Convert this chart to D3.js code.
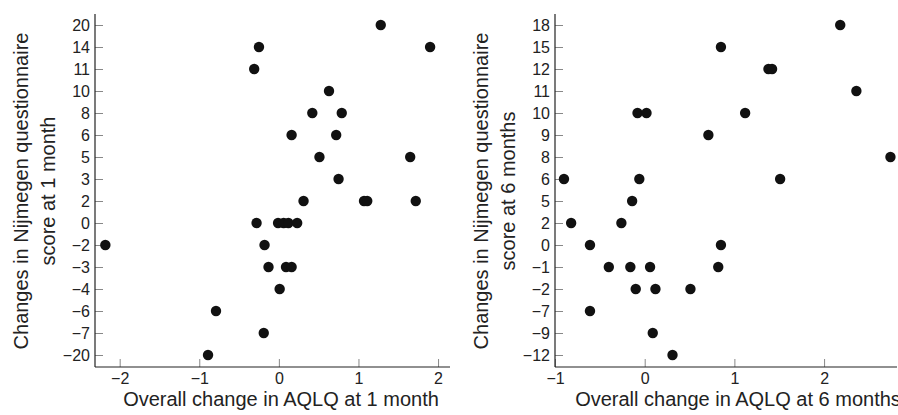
<!DOCTYPE html>
<html>
<head>
<meta charset="utf-8">
<script src="https://cdn.jsdelivr.net/npm/d3@7"></script>
<style>
body{margin:0;background:#fff}
text{font-family:"Liberation Sans",Arial,sans-serif;fill:#222}
</style>
</head>
<body>
<div id="chart"></div>
<script>
var width = 898
var height = 415

// y categories (the y axes are ordinal, not linear)
var cats1 = [20,14,11,10,8,6,5,3,2,0,-2,-3,-4,-6,-7,-20]
var cats6 = [18,15,12,11,10,9,8,6,5,2,0,-1,-2,-7,-9,-12]

// 1 month panel
var month1Y = [20,14,14,11,10,8,8,6,6,5,5,3,2,2,2,2,0,0,0,0,0,-2,-2,-3,-3,-3,-4,-6,-7,-20]
var month1X = [1.28,-0.25,1.90,-0.31,0.63,0.42,0.79,0.16,0.72,0.51,1.65,0.75,0.31,1.07,1.11,1.72,
	-0.28,-0.01,0.06,0.12,0.23,-0.18,-2.18,-0.13,0.09,0.16,0.01,-0.79,-0.19,-0.89]
var xTicks1 = [-2,-1,0,1,2]

// 6 months panel
var month6Y = [18,15,12,12,11,10,10,10,9,8,6,6,6,5,2,2,0,0,-1,-1,-1,-1,-2,-2,-2,-7,-9,-12]
var month6X = [2.18,0.85,1.38,1.42,2.36,-0.08,0.02,1.12,0.71,2.74,-0.90,-0.06,1.51,-0.14,-0.82,-0.26,
	-0.61,0.85,-0.40,-0.16,0.06,0.82,-0.10,0.12,0.51,-0.61,0.09,0.31]
var xTicks6 = [-1,0,1,2]

var svg = d3.select("#chart").append("svg")
	.attr("width",width)
	.attr("height",height)

var minus = function(v){ return String(v).replace("-","\u2212") }

function drawPanel(opts){
	var g = svg.append("g")
	var x = d3.scaleLinear().domain(opts.xDomain).range([opts.left,opts.right])
	var y = d3.scalePoint().domain(opts.cats).range([25,355])
	var axisY = 367

	// y axis, ticks pointing inward
	var yAxis = d3.axisLeft(y).tickSize(-8).tickPadding(5).tickFormat(minus)
	var gy = g.append("g").attr("transform","translate("+opts.left+",0)").call(yAxis)
	gy.select(".domain").remove()
	gy.selectAll(".tick line").attr("stroke","#888")
	gy.selectAll(".tick text").style("font-size","16px")

	var xAxis = d3.axisBottom(x).tickValues(opts.xTicks).tickSize(-8).tickPadding(6).tickFormat(minus)
	var gx = g.append("g").attr("transform","translate(0,"+axisY+")").call(xAxis)
	gx.select(".domain").remove()
	gx.selectAll(".tick line").attr("stroke","#888")
	gx.selectAll(".tick text").style("font-size","16px")

	g.append("line").attr("x1",opts.left).attr("x2",opts.left).attr("y1",14).attr("y2",axisY)
		.attr("stroke","#222").attr("stroke-width",1.2)
	g.append("line").attr("x1",opts.left).attr("x2",opts.right).attr("y1",axisY).attr("y2",axisY)
		.attr("stroke","#222").attr("stroke-width",1.2)

	g.selectAll(".dot")
		.data(opts.xs)
		.enter()
		.append("circle")
		.attr("class","dot")
		.attr("cx",function(d){ return x(d) })
		.attr("cy",function(d,i){ return y(opts.ys[i]) })
		.attr("r",5.2)
		.style("fill","#111")

	var title = g.append("text")
		.attr("transform","translate("+opts.titleX+",191) rotate(-90)")
		.attr("text-anchor","middle")
		.style("font-size","20px")
	title.append("tspan").attr("x",0).attr("dy",0).text("Changes in Nijmegen questionnaire")
	title.append("tspan").attr("x",0).attr("dy",27).text(opts.yLabel2)

	g.append("text")
		.attr("x",opts.xLabelX)
		.attr("y",406)
		.attr("text-anchor","middle")
		.style("font-size","20px")
		.text(opts.xLabel)
}

drawPanel({
	left:95, right:450, xDomain:[-2.31,2.15],
	cats:cats1, xs:month1X, ys:month1Y, xTicks:xTicks1,
	titleX:28, yLabel2:"score at 1 month",
	xLabel:"Overall change in AQLQ at 1 month", xLabelX:281
})
drawPanel({
	left:555, right:897, xDomain:[-1,2.813],
	cats:cats6, xs:month6X, ys:month6Y, xTicks:xTicks6,
	titleX:488, yLabel2:"score at 6 months",
	xLabel:"Overall change in AQLQ at 6 months", xLabelX:738
})
</script>
</body>
</html>
